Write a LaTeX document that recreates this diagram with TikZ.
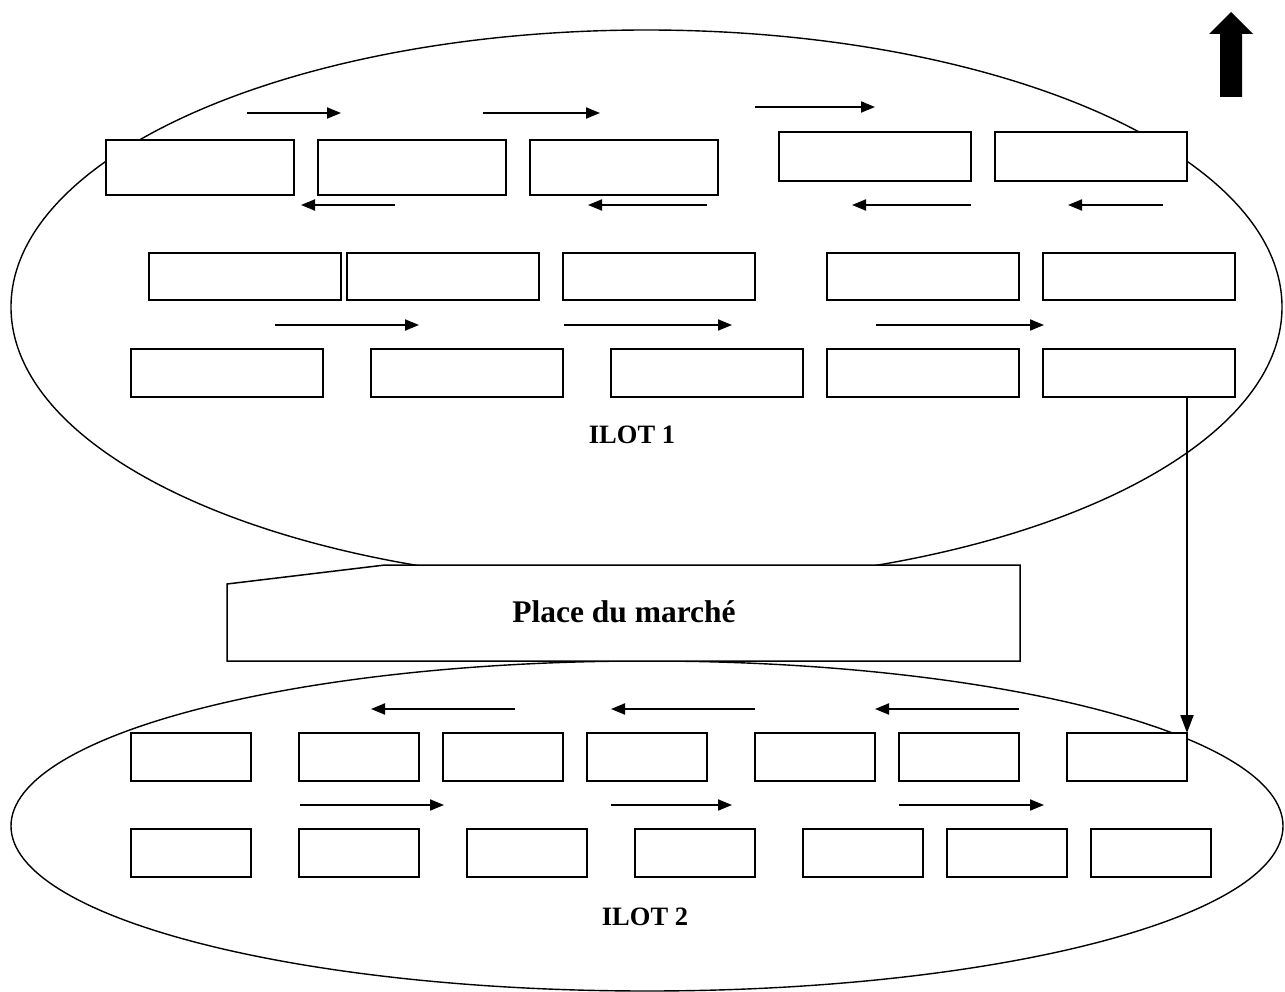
\documentclass[tikz,border=0pt]{standalone}
\usepackage{fontspec}
\setmainfont{Liberation Serif}
\usetikzlibrary{arrows.meta}
\tikzset{
  cellbox/.style={draw=black, fill=white, line width=1.5pt, inner sep=0pt, outer sep=0pt},
  flow/.style={line width=2pt, -{Triangle[length=14pt,width=11pt]}},
  islandshape/.style={draw=black, line width=1.4pt},
  label/.style={font=\bfseries\fontsize{26.5}{30}\selectfont, inner sep=0pt},
}
% \cellnode{name}{x1}{y1}{x2}{y2}
\newcommand{\cellnode}[5]{%
  \pgfmathsetmacro{\cw}{#4-#2}\pgfmathsetmacro{\ch}{#5-#3}%
  \node[cellbox, minimum width=\cw pt, minimum height=\ch pt] (#1) at ({(#2+#4)/2},{(#3+#5)/2}) {};}
\begin{document}
\begin{tikzpicture}[x=1pt,y=-1pt]
\useasboundingbox (0,0) rectangle (1285,992);
% islands
\draw[islandshape] (646.5,307) ellipse [x radius=635.5, y radius=277];
\draw[islandshape] (647,826) ellipse [x radius=636, y radius=165];
% market place
\draw[line width=1.5pt, fill=white] (227,584) -- (385,565) -- (1020,565) -- (1020,661) -- (227,661) -- cycle;
\node[font=\bfseries\fontsize{31.5}{36}\selectfont, inner sep=0pt] (place) at (624,612) {Place du marché};
% ILOT 1 row 1
\cellnode{a1}{106}{140}{294}{195}
\cellnode{a2}{318}{140}{506}{195}
\cellnode{a3}{530}{140}{718}{195}
\cellnode{a4}{779}{132}{971}{181}
\cellnode{a5}{995}{132}{1187}{181}
% row 2
\cellnode{b1}{149}{253}{341}{300}
\cellnode{b2}{347}{253}{539}{300}
\cellnode{b3}{563}{253}{755}{300}
\cellnode{b4}{827}{253}{1019}{300}
\cellnode{b5}{1043}{253}{1235}{300}
% row 3
\cellnode{c1}{131}{349}{323}{397}
\cellnode{c2}{371}{349}{563}{397}
\cellnode{c3}{611}{349}{803}{397}
\cellnode{c4}{827}{349}{1019}{397}
\cellnode{c5}{1043}{349}{1235}{397}
\node[label] (ilot1) at (632,435) {ILOT 1};
% ILOT 1 arrows
\draw[flow] (247,113) -- (341,113);
\draw[flow] (483,113) -- (600,113);
\draw[flow] (755,107) -- (875,107);
\draw[flow] (395,205) -- (301,205);
\draw[flow] (707,205) -- (588,205);
\draw[flow] (971,205) -- (852,205);
\draw[flow] (1163,205) -- (1068,205);
\draw[flow] (275,325) -- (419,325);
\draw[flow] (564,325) -- (732,325);
\draw[flow] (876,325) -- (1044,325);
% ILOT 2 row 1
\cellnode{d1}{131}{733}{251}{781}
\cellnode{d2}{299}{733}{419}{781}
\cellnode{d3}{443}{733}{563}{781}
\cellnode{d4}{587}{733}{707}{781}
\cellnode{d5}{755}{733}{875}{781}
\cellnode{d6}{899}{733}{1019}{781}
\cellnode{d7}{1067}{733}{1187}{781}
% row 2
\cellnode{e1}{131}{829}{251}{877}
\cellnode{e2}{299}{829}{419}{877}
\cellnode{e3}{467}{829}{587}{877}
\cellnode{e4}{635}{829}{755}{877}
\cellnode{e5}{803}{829}{923}{877}
\cellnode{e6}{947}{829}{1067}{877}
\cellnode{e7}{1091}{829}{1211}{877}
\node[label] (ilot2) at (645,917) {ILOT 2};
% ILOT 2 arrows
\draw[flow] (515,709) -- (371,709);
\draw[flow] (755,709) -- (611,709);
\draw[flow] (1019,709) -- (875,709);
\draw[flow] (300,805) -- (444,805);
\draw[flow] (611,805) -- (732,805);
\draw[flow] (899,805) -- (1044,805);
% link between islands
\draw[line width=2pt, -{Triangle[length=18pt,width=13pt]}] (c5.south -| d7.north east) -- (d7.north east);
% north arrow
\fill[black] (1220,97) -- (1220,34) -- (1209,34) -- (1231,12) -- (1253,34) -- (1242,34) -- (1242,97) -- cycle;
\end{tikzpicture}
\end{document}
